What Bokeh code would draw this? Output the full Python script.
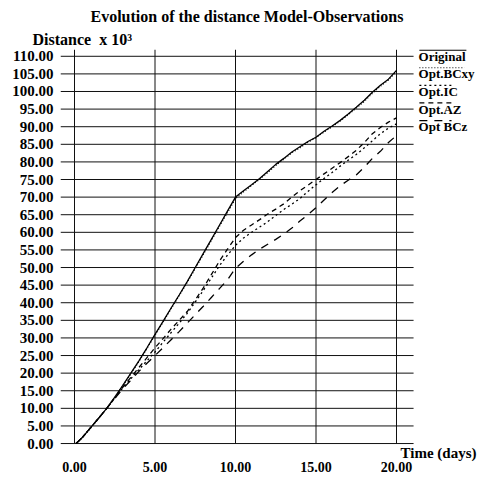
from bokeh.plotting import figure
from bokeh.models import Range1d, FixedTicker, CustomJSTickFormatter, Title
from bokeh.core.properties import value
from bokeh.embed import file_html
from bokeh.resources import INLINE

# ---- data ----
TIME = [0.1, 0.5, 1.0, 1.5, 2.0, 2.5, 3.0, 3.5, 4.0, 4.5, 5.0, 5.5, 6.0, 6.5, 7.0, 7.5, 8.0, 8.5, 9.0, 9.5,
        10.0, 10.5, 11.0, 11.5, 12.0, 12.5, 13.0, 13.5, 14.0, 14.5, 15.0, 15.5, 16.0, 16.5, 17.0, 17.5,
        18.0, 18.5, 19.0, 19.5, 20.0]
ORIGINAL = [0, 1.8, 4.5, 7.2, 10.0, 13.2, 16.5, 20.0, 23.5, 27.2, 31.0, 34.7, 38.5, 42.2, 46.0, 50.0, 54.0, 58.0,
            62.0, 66.0, 70.0, 71.8, 73.5, 75.3, 77.3, 79.3, 81.0, 82.8, 84.3, 85.8, 87.0, 88.7, 90.2, 91.8,
            93.6, 95.5, 97.5, 99.8, 101.8, 103.5, 106.0]
OPT_BCXY = [0, 1.8, 4.4, 7.1, 9.9, 13.1, 16.4, 19.8, 23.3, 27.0, 30.8, 34.5, 38.3, 42.0, 45.8, 49.7, 53.7, 57.7,
            61.7, 65.6, 69.6, 71.5, 73.3, 75.1, 77.0, 79.0, 80.8, 82.6, 84.0, 85.6, 86.9, 88.5, 90.0, 91.6,
            93.4, 95.3, 97.2, 99.5, 101.5, 103.3, 105.7]
OPT_IC = [0, 1.8, 4.5, 7.2, 10.0, 12.9, 15.8, 18.4, 21.0, 23.5, 26.0, 28.8, 31.5, 34.2, 37.0, 40.2, 43.5, 47.0,
          50.5, 53.5, 56.3, 58.4, 60.0, 61.5, 63.0, 64.8, 66.5, 68.0, 69.6, 71.6, 73.5, 75.3, 77.0, 78.8,
          80.5, 82.1, 84.0, 86.0, 88.0, 89.6, 90.8]
OPT_AZ = [0, 1.8, 4.5, 7.2, 10.0, 13.0, 16.0, 18.8, 21.6, 24.4, 27.2, 29.8, 32.5, 35.0, 37.5, 40.8, 44.2, 48.0,
          51.8, 55.2, 58.5, 60.6, 62.1, 63.6, 65.2, 66.6, 68.1, 70.0, 71.8, 73.4, 75.0, 76.6, 78.2, 79.8,
          81.5, 83.3, 85.5, 88.0, 89.8, 91.3, 92.5]
OPT_BCZ = [0, 1.8, 4.5, 7.2, 10.0, 12.8, 15.5, 18.0, 20.5, 22.8, 25.0, 27.2, 29.5, 31.8, 34.2, 36.6, 39.0, 41.5,
           44.0, 46.5, 49.8, 51.8, 53.6, 55.2, 56.6, 58.0, 59.5, 61.2, 63.2, 65.0, 67.0, 69.2, 71.3, 73.2,
           74.8, 76.3, 78.5, 81.0, 83.0, 85.5, 87.5]

SERIES_NAMES = ["Original", "Opt.BCxy", "Opt.IC", "Opt.AZ", "Opt BCz"]
X_TICKS = [0, 5, 10, 15, 20]
Y_TICKS = [0, 5, 10, 15, 20, 25, 30, 35, 40, 45, 50, 55, 60, 65, 70, 75, 80, 85, 90, 95, 100, 105, 110]
LEGEND_Y = [110, 105, 100, 95, 90]
TITLE = "Evolution of the distance Model-Observations"
Y_TITLE = "Distance\u00a0\u00a0x 10\u00b3"
X_TITLE = "Time (days)"

# ---- styles ----
DASHES = ["solid", "1 2", "2 3", "5 4", "8 7"]
OVERLINE_LEN = [2.92, 2.8, 2.17, 2.05, 2.0]
FONT = "Liberation Serif"
X0, X1 = -0.87, 25.59
Y0, Y1 = -5.1, 111.93
GRID_XR = 21.06

p = figure(frame_width=426, frame_height=412, output_backend="svg", toolbar_location=None, title=None,
           x_range=Range1d(X0, X1), y_range=Range1d(Y0, Y1),
           min_border_left=60, min_border_right=0, min_border_top=49, min_border_bottom=0)
p.outline_line_color = None
p.xgrid.visible = False
p.ygrid.visible = False

# grid lines drawn from the tick arrays
p.segment(x0=X_TICKS, y0=[0] * len(X_TICKS), x1=X_TICKS, y1=[Y1] * len(X_TICKS),
          line_color="#111111", line_width=1)
p.segment(x0=[X0] * len(Y_TICKS), y0=Y_TICKS, x1=[GRID_XR] * len(Y_TICKS), y1=Y_TICKS,
          line_color="#111111", line_width=1)

series = [ORIGINAL, OPT_BCXY, OPT_IC, OPT_AZ, OPT_BCZ]
for ys, dash in zip(series, DASHES):
    p.line(TIME, ys, line_color="black", line_width=1.3, line_dash=dash)

# legend texts with overlines showing the dash style
LX = 21.37
p.text(x=[LX] * 5, y=LEGEND_Y, text=SERIES_NAMES, text_font=value(FONT), text_font_style="bold",
       text_font_size="13px", text_baseline="middle", text_align="left", text_color="black")
for ly, dash, ln in zip(LEGEND_Y, DASHES, OVERLINE_LEN):
    p.line([LX + 0.05, LX + 0.05 + ln], [ly + 1.75, ly + 1.75], line_color="black", line_width=1.2,
           line_dash=dash)

# x-axis title, placed inside the frame just above the tick labels
p.text(x=[20.25], y=[-2.55], text=[X_TITLE], text_font=value(FONT), text_font_style="bold",
       text_font_size="15px", text_baseline="middle", text_align="left", text_color="black")

# axes
p.xaxis.ticker = FixedTicker(ticks=X_TICKS)
p.yaxis.ticker = FixedTicker(ticks=Y_TICKS)
fmt = CustomJSTickFormatter(code="return tick.toFixed(2);")
p.xaxis.formatter = fmt
p.yaxis.formatter = fmt
for ax in (p.xaxis, p.yaxis):
    ax.axis_line_color = None
    ax.major_tick_line_color = None
    ax.minor_tick_line_color = None
    ax.major_tick_out = 0
    ax.major_tick_in = 0
    ax.major_label_text_font = FONT
    ax.major_label_text_font_style = "bold"
    ax.major_label_text_font_size = "15px"
    ax.major_label_text_color = "black"
p.xaxis.major_label_text_font_size = "14px"
p.yaxis.major_label_standoff = 7
p.xaxis.major_label_standoff = 0

# titles (closest to the frame added first)
p.add_layout(Title(text=Y_TITLE, align="left", offset=-28, standoff=4,
                   text_font=FONT, text_font_style="bold", text_font_size="16px",
                   text_color="black"), "above")
p.add_layout(Title(text=TITLE, align="left", offset=30, standoff=4,
                   text_font=FONT, text_font_style="bold", text_font_size="16px",
                   text_color="black"), "above")

open("out.html", "w").write(file_html(p, INLINE))
